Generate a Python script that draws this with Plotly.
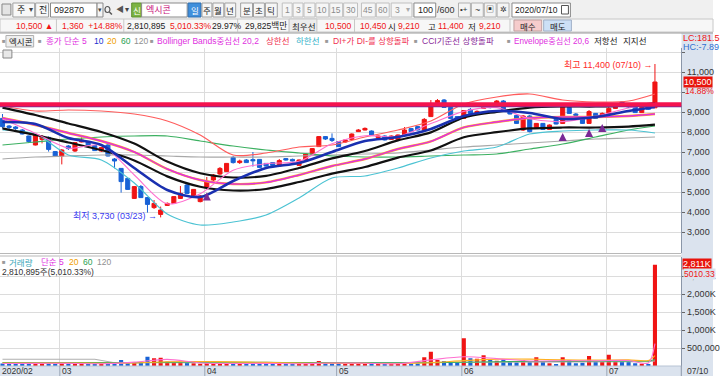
import plotly.graph_objects as go

W, H = 720, 376
FONT = "Noto Sans CJK KR, Noto Sans, DejaVu Sans, sans-serif"
NFONT = "Liberation Sans, Noto Sans CJK KR, sans-serif"

# ---------------- data ----------------
month_labels = ["2020/02", "03", "04", "05", "06", "07"]
month_start_idx = [0, 9, 31, 51, 70, 92]
last_date_label = "07/10"

opens = [8680, 8300, 8250, 8100, 7800, 7350, 7630, 7730, 7020, 6800,
         7300, 7050, 7500, 7520, 7320, 7050, 7350, 6650, 6180, 5680,
         4680, 5270, 4720, 4220, 3880, 4330, 4430, 4680, 5350, 4770,
         4520, 5250, 5600, 5900, 6020, 6730, 6470, 6600, 6620, 6630,
         6430, 6470, 6300, 6670, 6630, 6330, 6600, 6900, 7270, 7770,
         7680, 7520, 7500, 7630, 8020, 8100, 8050, 7730, 7800, 7630,
         7630, 7850, 8170, 8270, 8100, 8770, 9470, 9600, 9230, 8770,
         8680, 9130, 8930, 9180, 9300, 9430, 9550, 9070, 8830, 8100,
         8800, 8220, 8430, 8130, 8630, 8430, 9230, 8900, 8770, 8430,
         8930, 8770, 8930, 9180, 9500, 9350, 9270, 8970, 9200, 9210]
highs = [8900, 8350, 8300, 8150, 7820, 7870, 7850, 7780, 7050, 7150,
         7350, 7500, 7730, 7550, 7350, 7250, 7400, 6700, 6200, 5700,
         5300, 5350, 4750, 4600, 4270, 4480, 4800, 5300, 5400, 5150,
         4850, 5750, 5900, 6250, 6450, 6800, 6620, 6650, 7000, 6650,
         6450, 6500, 6650, 6700, 6670, 6630, 6950, 7200, 7800, 7800,
         7930, 7550, 7630, 7930, 8150, 8230, 8080, 7830, 7830, 7830,
         7880, 8250, 8200, 8300, 8700, 9600, 9650, 9650, 9250, 8800,
         9100, 9200, 9080, 9400, 9330, 9600, 9600, 9100, 8850, 8850,
         8850, 8450, 8450, 8380, 8650, 9350, 9250, 8950, 8800, 9100,
         8950, 8980, 9250, 9300, 9550, 9400, 9300, 9280, 9250, 11400]
lows = [8180, 8150, 8100, 7880, 7450, 7330, 7430, 7020, 6780, 6380,
        7100, 7000, 7480, 7330, 7050, 7000, 6780, 6180, 4970, 5100,
        4650, 4700, 3970, 4150, 3730, 4300, 4400, 4650, 4900, 4750,
        4480, 5200, 5550, 5850, 6000, 6420, 6400, 6450, 6270, 6200,
        6270, 6300, 6280, 6570, 6530, 6300, 6580, 6880, 7250, 7600,
        7500, 7250, 7450, 7600, 8000, 8080, 7830, 7700, 7580, 7600,
        7600, 7830, 8000, 8080, 8080, 8750, 9400, 9200, 8650, 8550,
        8650, 8900, 8900, 9150, 9180, 9400, 9100, 8880, 8400, 8050,
        7980, 8200, 8100, 8100, 8380, 8400, 8900, 8800, 8400, 8400,
        8650, 8750, 8900, 9150, 9350, 9200, 8950, 8950, 9100, 9210]
closes = [8270, 8230, 8180, 7900, 7520, 7850, 7770, 7130, 6800, 7100,
          7170, 7470, 7600, 7350, 7070, 7220, 6800, 6550, 5520, 5130,
          5270, 4720, 4380, 4430, 4100, 4430, 4770, 4930, 4930, 5130,
          4800, 5500, 5850, 6180, 6430, 6470, 6550, 6470, 6560, 6230,
          6300, 6330, 6570, 6600, 6550, 6600, 6900, 7170, 7770, 7650,
          7580, 7270, 7600, 7900, 8100, 8180, 7850, 7800, 7600, 7800,
          7850, 8100, 8020, 8100, 8630, 9270, 9570, 9230, 8680, 8600,
          9070, 8930, 9030, 9350, 9220, 9550, 9130, 8900, 8430, 8800,
          8020, 8430, 8130, 8350, 8400, 9300, 8930, 8830, 8430, 9020,
          8680, 8930, 9180, 9250, 9400, 9250, 8970, 9230, 9140, 10500]
volumes = [70000, 60000, 80000, 65000, 75000, 90000, 70000, 85000, 60000, 80000,
           75000, 60000, 70000, 55000, 65000, 60000, 80000, 95000, 167000, 90000,
           110000, 95000, 260000, 213000, 231000, 120000, 90000, 110000, 90000, 75000,
           60000, 90000, 70000, 60000, 55000, 65000, 60000, 70000, 110000, 70000,
           60000, 65000, 55000, 70000, 60000, 65000, 60000, 75000, 139000, 80000,
           70000, 75000, 65000, 90000, 60000, 90000, 65000, 60000, 70000, 55000,
           60000, 75000, 65000, 70000, 241000, 398000, 167000, 140000, 110000, 95000,
           769000, 213000, 204000, 296000, 167000, 148000, 185000, 120000, 102000, 167000,
           120000, 241000, 120000, 74000, 55000, 241000, 167000, 74000, 93000, 278000,
           120000, 110000, 315000, 120000, 115000, 110000, 75000, 60000, 56000, 2810895]

# indicator lines, read every 5 candles
line_idx = [0, 5, 10, 15, 20, 25, 30, 35, 40, 45, 50, 55, 60, 65, 70, 75, 80, 85, 90, 95, 99]
ma5 = [8650, 7940, 7190, 7340, 5850, 4410, 4910, 6090, 6420, 6530, 7410,
       7810, 7780, 8420, 9030, 9220, 8660, 8520, 8780, 9200, 9420]
ma10 = [8500, 8400, 7700, 7350, 6200, 5100, 4750, 5550, 6200, 6450, 7000,
        7550, 7750, 8150, 8800, 9050, 8950, 8650, 8750, 9050, 9250]
ma20 = [8700, 8350, 7950, 7550, 7000, 6150, 5600, 5400, 5480, 5850, 6300,
        6650, 7150, 7530, 8230, 8500, 8700, 8750, 8750, 8800, 8900]
ma60 = [7350, 7500, 7650, 7750, 7800, 7800, 7550, 7300, 7100, 6950, 6800,
        6750, 6750, 6800, 6850, 6900, 7150, 7400, 7750, 8100, 8300]
ma120 = [6650, 6750, 6800, 6850, 6850, 6800, 6750, 6750, 6750, 6800, 6850,
         6900, 6950, 7100, 7250, 7350, 7450, 7550, 7650, 7700, 7750]
bb_upper = [9300, 9050, 9100, 9050, 8900, 8550, 7850, 6850, 6950, 7250, 7350,
            7750, 8100, 8550, 9400, 9750, 9900, 9600, 9500, 9550, 9900]
bb_lower = [8100, 7900, 6850, 6600, 5450, 3900, 3350, 3500, 3850, 4700, 5700,
            5800, 6200, 6700, 7050, 7250, 7900, 8050, 8100, 8100, 7950]
env_upper = [9222, 8851, 8427, 8003, 7420, 6519, 5936, 5724, 5809, 6201, 6678,
             7049, 7579, 7982, 8724, 9010, 9222, 9275, 9275, 9328, 9434]
env_lower = [8178, 7849, 7473, 7097, 6580, 5781, 5264, 5076, 5151, 5499, 5922,
             6251, 6721, 7078, 7736, 7990, 8178, 8225, 8225, 8272, 8366]

resistance_price = 9380
support_price = 9280

signal_idx = [31, 85, 89, 91]
signal_price = [4980, 7950, 8150, 8400]

high_idx, high_price, high_text = 99, 11400, "최고 11,400 (07/10) →"
low_idx, low_price, low_text = 24, 3730, "최저 3,730 (03/23) →"

vol_line_idx = [0, 5, 10, 15, 20, 25, 30, 35, 40, 45, 50, 55, 60, 65, 70, 75, 80, 85, 90, 95, 98, 99]
vol_ma5 = [70000, 74000, 74000, 62000, 108000, 184000, 85000, 68000, 74000, 63000, 85000,
           76000, 62000, 170000, 256000, 206000, 139000, 146000, 146000, 154000, 83000, 622000]
vol_ma20 = [80000, 80000, 80000, 78000, 85000, 120000, 125000, 115000, 100000, 80000, 75000,
            72000, 70000, 90000, 150000, 190000, 190000, 170000, 165000, 170000, 155000, 290000]
vol_ma60 = [95000, 95000, 95000, 95000, 95000, 100000, 105000, 105000, 100000, 98000, 95000,
            92000, 90000, 92000, 105000, 120000, 125000, 128000, 130000, 135000, 135000, 180000]
vol_ma120_idx = [0, 14, 17, 30, 50, 70, 90, 98, 99]
vol_ma120 = [186000, 186000, 92000, 88000, 90000, 105000, 118000, 120000, 143000]

price_ticks = [3000, 4000, 5000, 6000, 7000, 8000, 9000, 10000, 11000, 12000]
price_tick_text = ["3,000", "4,000", "5,000", "6,000", "7,000", "8,000", "9,000", "", "11,000", ""]
vol_ticks = [500000, 1000000, 1500000, 2000000, 2500000]
vol_tick_text = ["500,000", "1,000K", "1,500K", "2,000K", "2,500K"]

# ---------------- styles ----------------
RED = "#f01414"
BLUE = "#1862d6"
GRID = "#dcdcdc"
PANEL = "#dbe3ee"

idx = list(range(len(closes)))
bar_colors = [RED if c >= o else BLUE for o, c in zip(opens, closes)]


def px(x):
    return x / W


def py(y):
    return 1 - y / H


fig = go.Figure()


def add_line(xs, ys, color, width, axis="y", shape="spline"):
    fig.add_trace(go.Scatter(x=xs, y=ys, mode="lines", yaxis=axis,
                             xaxis="x" if axis == "y" else "x2",
                             line=dict(color=color, width=width, shape=shape,
                                       smoothing=0.8 if shape == "spline" else None),
                             hoverinfo="skip", showlegend=False))


add_line(line_idx, ma120, "#a8a8a8", 1.2)
add_line(line_idx, ma60, "#3cb061", 1.2)
add_line(line_idx, bb_lower, "#4cc3d3", 1.2)
add_line(line_idx, bb_upper, "#ff5c5c", 1.2)
add_line(line_idx, env_lower, "#111111", 2.2)
add_line(line_idx, env_upper, "#111111", 2.2)
add_line(line_idx, ma20, "#ffa726", 2.4)
add_line(line_idx, ma20, "#e030e0", 1.4)
add_line(line_idx, ma5, "#ff70d0", 1.1)
add_line(line_idx, ma10, "#1a30b0", 2.6)

fig.add_trace(go.Candlestick(
    x=idx, open=opens, high=highs, low=lows, close=closes,
    increasing=dict(line=dict(color=RED, width=1), fillcolor=RED),
    decreasing=dict(line=dict(color=BLUE, width=1), fillcolor=BLUE),
    whiskerwidth=0, hoverinfo="skip", showlegend=False, xaxis="x", yaxis="y"))

fig.add_trace(go.Bar(x=idx, y=volumes, marker=dict(color=bar_colors, line=dict(width=0)),
                     width=0.62, xaxis="x2", yaxis="y2", hoverinfo="skip", showlegend=False))
add_line(vol_ma120_idx, vol_ma120, "#b0b0b0", 1.1, axis="y2", shape="linear")
add_line(vol_line_idx, vol_ma60, "#3cb061", 1.1, axis="y2")
add_line(vol_line_idx, vol_ma20, "#ffb020", 1.1, axis="y2")
add_line(vol_line_idx, vol_ma5, "#ff70d0", 1.1, axis="y2")

shapes = []
annotations = []


def rect(x0, y0, x1, y1, fill, line="#a0a0a0", lw=1, layer="above"):
    shapes.append(dict(type="rect", xref="paper", yref="paper",
                       x0=px(x0), x1=px(x1), y0=py(y1), y1=py(y0),
                       fillcolor=fill, line=dict(color=line if line else fill, width=lw if line else 0),
                       layer=layer))


def hline(x0, x1, y, color, w=1, layer="above"):
    shapes.append(dict(type="line", xref="paper", yref="paper", x0=px(x0), x1=px(x1),
                       y0=py(y), y1=py(y), line=dict(color=color, width=w), layer=layer))


def vline(x, y0, y1, color, w=1):
    shapes.append(dict(type="line", xref="paper", yref="paper", x0=px(x), x1=px(x),
                       y0=py(y1), y1=py(y0), line=dict(color=color, width=w)))


def txt(x, y, s, color="#222222", size=10, anchor="left", bg=None, family=NFONT):
    a = dict(x=px(x), y=py(y), xref="paper", yref="paper", text=s, showarrow=False,
             xanchor=anchor, yanchor="middle", font=dict(size=size, color=color, family=family),
             borderpad=0)
    if bg:
        a["bgcolor"] = bg
    annotations.append(a)


# ---- background panels ----
rect(688, 33, 720, 376, PANEL, line=None, layer="below")
rect(0, 366, 688, 376, PANEL, line=None, layer="below")
rect(0, 0, 720, 33, "#f0f0f0", line=None, layer="below")
hline(0, 720, 33, "#9a9a9a")
hline(0, 688, 253.5, "#b8b8b8")
hline(0, 688, 256, "#b8b8b8")
hline(0, 688, 366, "#b8c4d4")

for m in month_start_idx[1:]:
    shapes.append(dict(type="line", xref="x", yref="paper", x0=m - 0.3, x1=m - 0.3,
                       y0=py(376), y1=py(366), line=dict(color="#9aa6b6", width=1)))

shapes.append(dict(type="line", xref="paper", yref="y", x0=0, x1=px(688),
                   y0=support_price, y1=support_price, line=dict(color="#6a2ca0", width=1.6)))
shapes.append(dict(type="line", xref="paper", yref="y", x0=0, x1=px(688),
                   y0=resistance_price, y1=resistance_price, line=dict(color="#f5134f", width=4.2)))

# ---- toolbar row 1 ----
TB = 9
rect(2, 4, 11, 15, "#e4e4e4", "#888888")
rect(13, 3, 35, 17, "#f8f8f8")
txt(16, 10, "주", size=TB, family=FONT)
txt(28, 10, "▾", "#444", size=8)
rect(36, 3, 49, 17, "#f8f8f8")
txt(38, 10, "전", size=TB, family=FONT)
rect(51, 3, 98, 17, "#ffffff", "#8a8a8a")
txt(54, 10, "092870", size=TB)
rect(98, 3, 104, 17, "#f4f4f4", "#8a8a8a")
txt(101, 10, "▾", "#444", size=7, anchor="center")
shapes.append(dict(type="circle", xref="paper", yref="paper", x0=px(106), x1=px(111),
                   y0=py(12.5), y1=py(6.5), line=dict(color="#555", width=1.2)))
shapes.append(dict(type="line", xref="paper", yref="paper", x0=px(110.5), x1=px(113),
                   y0=py(12), y1=py(14.5), line=dict(color="#555", width=1.5)))
txt(116, 10, "◀", "#555", size=8)
txt(125, 10, "▾", "#444", size=8)
rect(133, 3, 143, 17, "#7cb342", "#5d8f2f")
txt(138, 10, "신", "#ffffff", size=8.5, family=FONT, anchor="center")
rect(143, 3, 189, 17, "#ffffff", "#8a8a8a")
txt(146, 10, "엑시콘", "#c8107a", size=TB, family=FONT)
rect(190, 3, 203, 17, "#3f8fdc", "#2f6fb0")
txt(196.5, 10, "일", "#ffffff", size=8.5, family=FONT, anchor="center")
for x0, x1, s in [(204, 214, "주"), (215, 226, "월"), (227, 238, "년"),
                  (243, 255, "분"), (256, 267, "초"), (268, 280, "틱")]:
    rect(x0, 3, x1, 17, "#f6f6f6")
    txt((x0 + x1) / 2, 10, s, size=8.5, anchor="center", family=FONT)
for x0, x1, s in [(285, 295, "1"), (296, 306, "3"), (307, 318, "5"), (319, 332, "10"),
                  (333, 346, "15"), (347, 361, "30"), (365, 379, "45"), (380, 393, "60")]:
    rect(x0, 3, x1, 17, "#f6f6f6", "#c0c0c0")
    txt((x0 + x1) / 2, 10, s, "#8a8a8a", size=8.5, anchor="center")
rect(395, 3, 416, 17, "#f6f6f6", "#c0c0c0")
txt(398, 10, "3", "#8a8a8a", size=8.5)
txt(409, 10, "▾", "#aaa", size=8)
rect(418, 3, 440, 17, "#ffffff", "#8a8a8a")
txt(438, 10, "100", size=TB, anchor="right")
txt(440, 10, "/600", "#333", size=TB)
for x0 in [463, 476, 489, 502]:
    rect(x0, 3, x0 + 12, 17, "#f4f4f4", "#b0b0b0")
txt(469, 10, "•+", "#333", size=8, anchor="center")
txt(482, 10, "~", "#333", size=9, anchor="center")
txt(495, 10, "▣", "#333", size=8, anchor="center")
txt(508, 10, "✲", "#333", size=8, anchor="center")
rect(517, 3, 576, 17, "#ffffff", "#8a8a8a")
txt(519, 10, "2020/07/10", size=8.5)
rect(567, 5.5, 574, 14, "#ffffff", "#555555")

# ---- toolbar row 2 ----
rect(0, 19, 720, 32, "#f7f7f7", "#c8c8c8", layer="below")
for xs in [57, 125, 240, 292, 358, 515]:
    vline(xs, 19, 32, "#c8c8c8")
R2 = 8.6
txt(15, 26, "10,500 ▲", RED, size=R2)
txt(62, 26, "1,360  +14.88%", RED, size=R2)
txt(127, 26, "2,810,895", "#222", size=R2)
txt(171, 26, "5,010.33%", RED, size=R2)
txt(213, 26, "29.97%", "#222", size=R2)
txt(246, 26, "29,825백만", "#222", size=R2)
rect(292, 19, 320, 32, "#ececec", "#c8c8c8")
txt(294, 26, "최우선", "#222", size=8.5, family=FONT)
txt(327, 26, "10,500", RED, size=R2)
txt(363, 26, "10,450", RED, size=R2)
txt(391, 26, "시", "#222", size=8.5, family=FONT)
txt(401, 26, "9,210", RED, size=R2)
txt(431, 26, "고", "#222", size=8.5, family=FONT)
txt(441, 26, "11,400", RED, size=R2)
txt(472, 26, "저", "#222", size=8.5, family=FONT)
txt(483, 26, "9,210", RED, size=R2)
rect(519, 20, 547, 31, "#f6cccc", "#c0a0a0")
txt(533, 25.5, "매수", "#222", size=8.5, anchor="center", family=FONT)
rect(549, 20, 577, 31, "#cde0f6", "#a0b0c8")
txt(563, 25.5, "매도", "#222", size=8.5, anchor="center", family=FONT)

# ---- legend row ----
rect(0, 34, 688, 47, "#ffffff", line=None)
LEG_Y = 41.5
LS = 8.5
txt(1, LEG_Y, "■", "#9a9a9a", size=6)
rect(6, 35.5, 34, 47, "#eeeeee", "#b0b0b0")
txt(8, LEG_Y, "엑시콘", "#222", size=LS, family=FONT)
txt(37, LEG_Y, "■", "#9a9a9a", size=6)
txt(45, LEG_Y, "종가 단순 5", "#e030e0", size=LS)
txt(94, LEG_Y, "10", "#1a30d0", size=LS)
txt(107, LEG_Y, "20", "#f0a000", size=LS)
txt(121, LEG_Y, "60", "#2aa050", size=LS)
txt(134, LEG_Y, "120", "#909090", size=LS)
txt(150, LEG_Y, "■", "#9a9a9a", size=6)
txt(158, LEG_Y, "Bollinger Bands중심선 20,2", "#e030e0", size=LS)
txt(268, LEG_Y, "상한선", "#f03050", size=LS)
txt(298, LEG_Y, "하한선", "#30b0c8", size=LS)
txt(327, LEG_Y, "■", "#9a9a9a", size=6)
txt(335, LEG_Y, "DI+가 DI-를 상향돌파", "#f03050", size=LS)
txt(417, LEG_Y, "■", "#9a9a9a", size=6)
txt(425, LEG_Y, "CCI기준선 상향돌파", "#8a2a9a", size=LS)
txt(511, LEG_Y, "■", "#9a9a9a", size=6)
txt(518, LEG_Y, "Envelope중심선 20,6", "#e030e0", size=8.2)
txt(599, LEG_Y, "저항선", "#222", size=LS)
txt(628, LEG_Y, "지지선", "#222", size=LS)
rect(3, 50, 12, 58, "#e8e8e8", "#888888")

# right panel labels
txt(689, 38, "LC:181.5", RED, size=9)
txt(689, 47, "HC:-7.89", "#3070d0", size=9)
txt(690, 82, "10,500", "#ffffff", size=9, bg="#e8140c")
txt(691, 91, "14.88%", RED, size=8.5)
txt(689, 264, "2,811K", "#ffffff", size=9, bg="#e8140c")
txt(690, 273.5, "5010.33", RED, size=8.5, bg=PANEL)

# volume legend
txt(1, 262, "■", "#9a9a9a", size=6)
txt(8, 262, "거래량", "#3aa6b8", size=8.5, family=FONT)
txt(40, 262, "단순 5", "#e030e0", size=8.5)
txt(69, 262, "20", "#f0a000", size=8.5)
txt(83, 262, "60", "#2aa050", size=8.5)
txt(97, 262, "120", "#909090", size=8.5)
txt(1, 271.5, "2,810,895주(5,010.33%)", "#333", size=8.5)

# date labels
for m, lab in zip(month_start_idx, month_labels):
    annotations.append(dict(x=m - 0.3 if m else -0.35, y=py(370.5), xref="x", yref="paper",
                            text=lab, showarrow=False, xanchor="left", yanchor="middle",
                            xshift=1, borderpad=0, font=dict(size=8.5, color="#333", family=NFONT)))
txt(693, 370.5, last_date_label, "#333", size=8.5)
vline(688, 366, 376, "#8a96a8")

# high / low markers
annotations.append(dict(x=high_idx, y=high_price, xref="x", yref="y", text=high_text,
                        showarrow=False, xanchor="right", yanchor="middle", xshift=-1, yshift=-1,
                        font=dict(size=9, color="#ff2a2a", family=NFONT)))
annotations.append(dict(x=low_idx, y=low_price, xref="x", yref="y", text=low_text,
                        showarrow=False, xanchor="right", yanchor="middle", xshift=-2, yshift=1,
                        font=dict(size=9, color="#3a3af0", family=NFONT)))

# DI+ crossing signals
for si, sp in zip(signal_idx, signal_price):
    annotations.append(dict(x=si, y=sp, xref="x", yref="y", ax=0, ay=8, text="",
                            showarrow=True, arrowhead=2, arrowsize=0.9, arrowwidth=1.8,
                            arrowcolor="#7a2a96"))

fig.update_layout(
    width=W, height=H, margin=dict(l=0, r=0, t=0, b=0),
    paper_bgcolor="#ffffff", plot_bgcolor="#ffffff",
    showlegend=False, boxgap=0.38, boxgroupgap=0, bargap=0.3,
    shapes=shapes, annotations=annotations,
    font=dict(family=FONT),
    xaxis=dict(domain=[0, px(688)], range=[-0.376, 103.0], anchor="y",
               tickvals=[m - 0.3 for m in month_start_idx[1:]], showticklabels=False,
               showgrid=True, gridcolor=GRID, gridwidth=1, zeroline=False, ticks="",
               rangeslider=dict(visible=False), fixedrange=True),
    xaxis2=dict(domain=[0, px(688)], matches="x", anchor="y2",
                tickvals=[m - 0.3 for m in month_start_idx[1:]], showticklabels=False,
                showgrid=True, gridcolor=GRID, gridwidth=1, zeroline=False, ticks="",
                rangeslider=dict(visible=False)),
    yaxis=dict(domain=[py(253), py(48)], range=[1950, 12200], side="right", anchor="x",
               tickvals=price_ticks, ticktext=price_tick_text, ticks="outside", ticklen=3,
               tickcolor="#666", showline=True, linecolor="#8a96a8", linewidth=1,
               showgrid=True, gridcolor=GRID, zeroline=False,
               tickfont=dict(size=9, color="#333", family=NFONT)),
    yaxis2=dict(domain=[py(366), py(257)], range=[0, 3027778], side="right", anchor="x2",
                tickvals=vol_ticks, ticktext=vol_tick_text, ticks="outside", ticklen=3,
                tickcolor="#666", showline=True, linecolor="#8a96a8", linewidth=1,
                showgrid=True, gridcolor=GRID, zeroline=False,
                tickfont=dict(size=9, color="#333", family=NFONT)),
)

fig.write_html("out.html", config={"displayModeBar": False},
               post_script="document.body.style.margin='0';document.body.style.overflow='hidden';")
